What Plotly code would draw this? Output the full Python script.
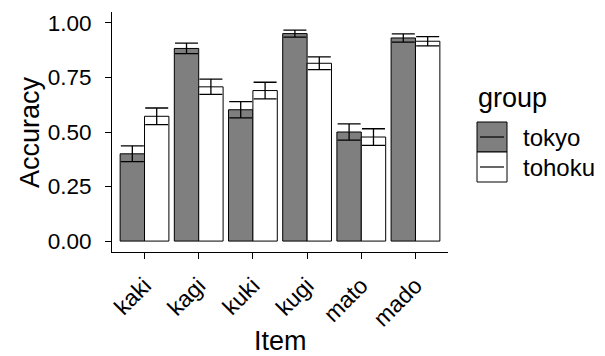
import plotly.graph_objects as go

items = ["kaki", "kagi", "kuki", "kugi", "mato", "mado"]
groups = ["tokyo", "tohoku"]
tokyo_mean = [0.400, 0.883, 0.602, 0.951, 0.500, 0.931]
tokyo_se = [0.036, 0.024, 0.037, 0.016, 0.037, 0.019]
tohoku_mean = [0.572, 0.707, 0.690, 0.815, 0.477, 0.916]
tohoku_se = [0.038, 0.035, 0.038, 0.029, 0.038, 0.021]
y_ticks = [0, 0.25, 0.5, 0.75, 1.0]
y_ticklabels = ["0.00", "0.25", "0.50", "0.75", "1.00"]
colors = {"tokyo": "#7F7F7F", "tohoku": "#FFFFFF"}

FONT = "Liberation Sans, Arial, Helvetica, sans-serif"
W, H = 605, 356
L, R, T, B = 112, 157, 12, 104
PW, PH = W - L - R, H - T - B

def px_x(px):
    return (px - L) / PW

def px_y(py):
    return 1 - (py - T) / PH

fig = go.Figure()
for g, m, s in [("tokyo", tokyo_mean, tokyo_se), ("tohoku", tohoku_mean, tohoku_se)]:
    fig.add_trace(go.Bar(
        x=items, y=m, name=g,
        marker=dict(color=colors[g], line=dict(color="black", width=1)),
        error_y=dict(type="data", array=s, visible=True, color="black",
                     thickness=1.3, width=11.5),
        showlegend=False,
    ))

fig.update_layout(
    template="none",
    width=W, height=H,
    margin=dict(l=L, r=R, t=T, b=B, pad=0),
    paper_bgcolor="white", plot_bgcolor="white",
    barmode="group", bargap=0.1, bargroupgap=0,
    font=dict(family=FONT, color="black", size=22),
    xaxis=dict(
        range=[-0.6, 5.6], showline=True, linecolor="black", linewidth=1,
        ticks="outside", ticklen=6, tickcolor="black", tickwidth=1,
        tickangle=-45, tickfont=dict(size=23, color="black"),
        ticklabelstandoff=4,
        showgrid=False, zeroline=False, automargin=False,
    ),
    yaxis=dict(
        range=[-0.05, 1.05], showline=True, linecolor="black", linewidth=1,
        ticks="outside", ticklen=6, tickcolor="black", tickwidth=1,
        tickvals=y_ticks, ticktext=y_ticklabels,
        tickfont=dict(size=22.5, color="black"),
        ticklabelstandoff=9,
        showgrid=False, zeroline=False, automargin=False,
    ),
)

# axis titles
fig.add_annotation(text="Item", xref="paper", yref="paper",
                   x=0.5, y=px_y(341), xanchor="center", yanchor="middle",
                   showarrow=False, font=dict(size=27, family=FONT))
fig.add_annotation(text="Accuracy", xref="paper", yref="paper",
                   x=px_x(30), y=0.5, xanchor="center", yanchor="middle",
                   textangle=-90, showarrow=False, font=dict(size=27, family=FONT))

# custom legend (ggplot style)
fig.add_annotation(text="group", xref="paper", yref="paper",
                   x=px_x(476), y=px_y(98), xanchor="left", yanchor="middle",
                   showarrow=False, font=dict(size=27, family=FONT))
key_tops = [122, 152]
for g, top in zip(groups, key_tops):
    fig.add_shape(type="rect", xref="paper", yref="paper",
                  x0=px_x(477), x1=px_x(507), y0=px_y(top), y1=px_y(top + 30),
                  fillcolor=colors[g], line=dict(color="black", width=1))
    fig.add_shape(type="line", xref="paper", yref="paper",
                  x0=px_x(480), x1=px_x(504), y0=px_y(top + 15), y1=px_y(top + 15),
                  line=dict(color="black", width=1.2))
    fig.add_annotation(text=g, xref="paper", yref="paper",
                       x=px_x(521), y=px_y(top + 15), xanchor="left", yanchor="middle",
                       showarrow=False, font=dict(size=24, family=FONT))

fig.write_html("out.html")
